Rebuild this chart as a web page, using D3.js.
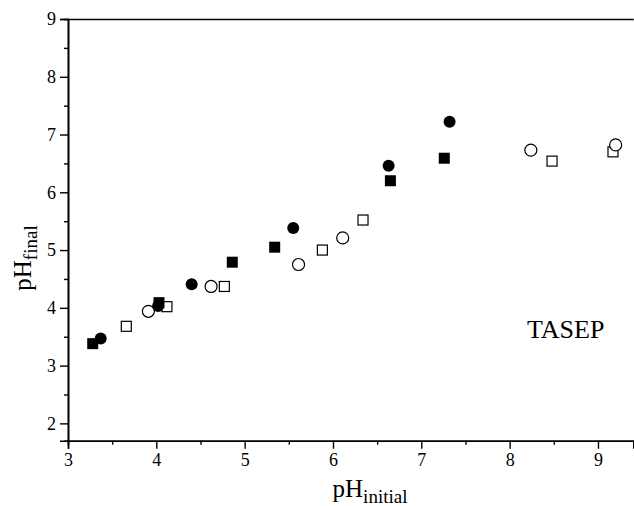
<!DOCTYPE html>
<html><head><meta charset="utf-8">
<script src="https://cdn.jsdelivr.net/npm/d3@7"></script>
<style>body{margin:0;background:#fff}svg{display:block}</style>
</head><body>
<script>
const filledSquares = [[3.28,3.38],[4.03,4.09],[4.86,4.79],[5.34,5.05],[6.65,6.20],[7.26,6.59]];
const filledCircles = [[3.37,3.47],[4.02,4.03],[4.40,4.41],[5.55,5.38],[6.63,6.46],[7.32,7.22]];
const openSquares = [[3.66,3.68],[4.12,4.02],[4.77,4.37],[5.88,5.00],[6.34,5.52],[8.48,6.54],[9.17,6.70]];
const openCircles = [[3.91,3.94],[4.62,4.37],[5.61,4.75],[6.11,5.21],[8.24,6.73],[9.20,6.82]];
const xTicks = [3,4,5,6,7,8,9];
const xMinor = [3.5,4.5,5.5,6.5,7.5,8.5];
const yTicks = [2,3,4,5,6,7,8,9];
const yMinor = [2.5,3.5,4.5,5.5,6.5,7.5,8.5];
const annotation = "TASEP";

const W = 634, H = 506;
const m = {left: 68, top: 19, right: 0.7, bottom: 65.3};
const svg = d3.select("body").append("svg").attr("width", W).attr("height", H);
const x = d3.scaleLinear().domain([3, 9.4]).range([m.left, W - m.right]);
const y = d3.scaleLinear().domain([1.7, 9]).range([H - m.bottom, m.top]);
const font = "'Liberation Serif', 'Times New Roman', serif";

svg.append("g").attr("transform", `translate(0,${H - m.bottom})`)
  .call(d3.axisBottom(x).tickValues(xTicks).tickSize(8).tickPadding(5).tickFormat(d3.format("d")));
svg.append("g").attr("transform", `translate(0,${H - m.bottom})`)
  .call(d3.axisBottom(x).tickValues(xMinor).tickSize(4).tickFormat(""));
svg.append("g").attr("transform", `translate(${m.left},0)`)
  .call(d3.axisLeft(y).tickValues(yTicks).tickSize(8).tickPadding(4).tickFormat(d3.format("d")));
svg.append("g").attr("transform", `translate(${m.left},0)`)
  .call(d3.axisLeft(y).tickValues(yMinor).tickSize(4).tickFormat(""));
svg.append("g").attr("transform", `translate(0,${m.top})`)
  .call(d3.axisTop(x).tickValues([]).tickSizeOuter(0));

svg.selectAll(".domain").attr("stroke", "#000").attr("stroke-width", 1.6);
svg.selectAll(".tick line").attr("stroke", "#000").attr("stroke-width", 1.4);
svg.selectAll(".tick text").attr("font-family", font).attr("font-size", 18).attr("fill", "#000");

const sq = 11, sqO = 10, r = 6;
svg.append("g").selectAll("rect").data(openSquares).join("rect")
  .attr("x", d => x(d[0]) - sqO/2).attr("y", d => y(d[1]) - sqO/2)
  .attr("width", sqO).attr("height", sqO)
  .attr("fill", "#fff").attr("stroke", "#000").attr("stroke-width", 1.2);
svg.append("g").selectAll("circle").data(openCircles).join("circle")
  .attr("cx", d => x(d[0])).attr("cy", d => y(d[1])).attr("r", r)
  .attr("fill", "#fff").attr("stroke", "#000").attr("stroke-width", 1.2);
svg.append("g").selectAll("circle").data(filledCircles).join("circle")
  .attr("cx", d => x(d[0])).attr("cy", d => y(d[1])).attr("r", r).attr("fill", "#000");
svg.append("g").selectAll("rect").data(filledSquares).join("rect")
  .attr("x", d => x(d[0]) - sq/2).attr("y", d => y(d[1]) - sq/2)
  .attr("width", sq).attr("height", sq).attr("fill", "#000");

svg.append("text").attr("x", 527).attr("y", 338).attr("font-family", font)
  .attr("font-size", 26).text(annotation);

const xt = svg.append("text").attr("x", 370).attr("y", 497)
  .attr("text-anchor", "middle").attr("font-family", font).attr("font-size", 25);
xt.append("tspan").text("pH");
xt.append("tspan").attr("dy", 6).attr("font-size", 19).text("initial");

const yt = svg.append("text").attr("transform", `translate(31,258) rotate(-90)`)
  .attr("text-anchor", "middle").attr("font-family", font).attr("font-size", 25);
yt.append("tspan").text("pH");
yt.append("tspan").attr("dy", 6).attr("font-size", 19).text("final");
</script>
</body></html>
